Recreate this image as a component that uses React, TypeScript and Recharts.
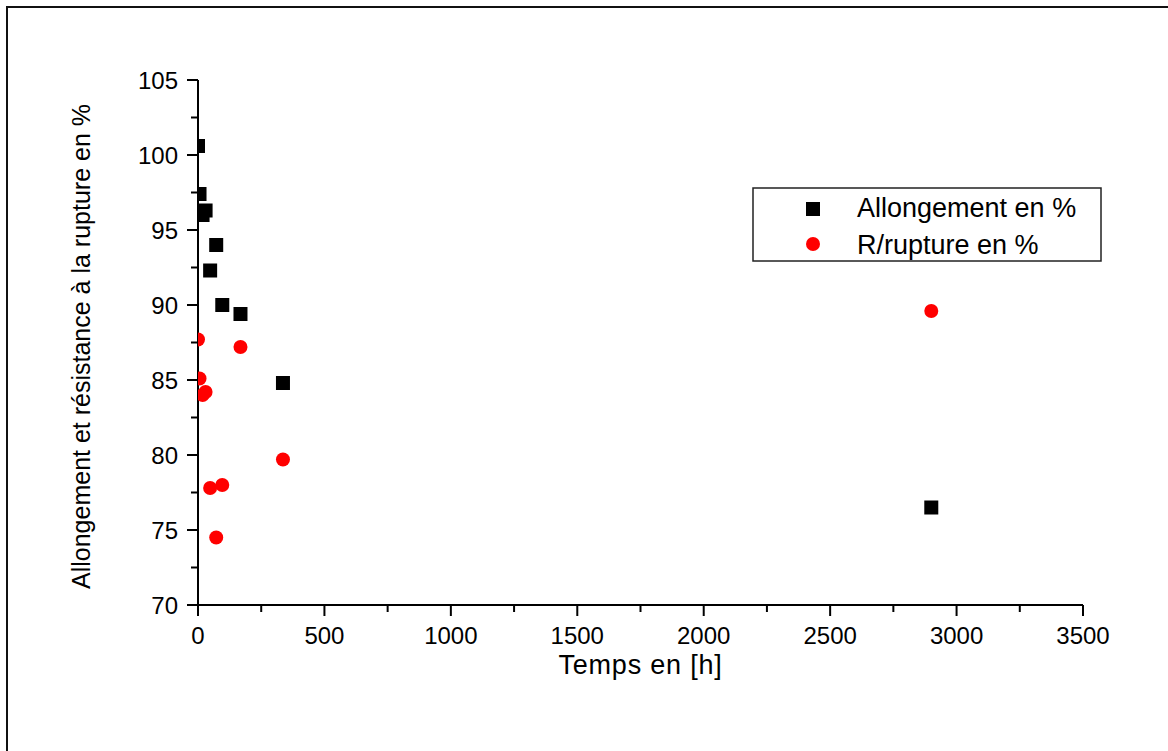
import React from 'react';
import { ScatterChart, Scatter, XAxis, YAxis, Legend } from 'recharts';

// values
const hours = [0, 6, 18, 30, 48, 72, 96, 168, 336, 2900];
const allongement = [100.6, 97.4, 96.0, 96.3, 92.3, 94.0, 90.0, 89.4, 84.8, 76.5];
const rupture = [87.7, 85.1, 84.0, 84.2, 77.8, 74.5, 78.0, 87.2, 79.7, 89.6];

const xTicks = [0, 250, 500, 750, 1000, 1250, 1500, 1750, 2000, 2250, 2500, 2750, 3000, 3250, 3500];
const yTicks = [70, 72.5, 75, 77.5, 80, 82.5, 85, 87.5, 90, 92.5, 95, 97.5, 100, 102.5, 105];

const FONT = '"Liberation Sans", Arial, sans-serif';

const allongementData = hours.map((h, i) => ({ x: h, y: allongement[i] }));
const ruptureData = hours.map((h, i) => ({ x: h, y: rupture[i] }));

const Square = (props: any) => {
  const { cx, cy } = props;
  if (cx == null || cy == null) return null;
  return <rect x={cx - 7} y={cy - 7} width={14} height={14} fill="#000" />;
};

const Dot = (props: any) => {
  const { cx, cy } = props;
  if (cx == null || cy == null) return null;
  return <circle cx={cx} cy={cy} r={7} fill="#ff0000" />;
};

const XTick = (props: any) => {
  const { x, y, payload } = props;
  const major = payload.value % 500 === 0;
  return (
    <g>
      <line x1={x} y1={y} x2={x} y2={y + (major ? 11 : 7)} stroke="#000" strokeWidth={2} />
      {major && (
        <text x={x} y={y + 39} textAnchor="middle" fontSize={24} fontFamily={FONT} fill="#000">
          {payload.value}
        </text>
      )}
    </g>
  );
};

const YTick = (props: any) => {
  const { x, y, payload } = props;
  const major = payload.value % 5 === 0;
  return (
    <g>
      <line x1={x - (major ? 11 : 7)} y1={y} x2={x} y2={y} stroke="#000" strokeWidth={2} />
      {major && (
        <text x={x - 20} y={y + 8.5} textAnchor="end" fontSize={24} fontFamily={FONT} fill="#000">
          {payload.value}
        </text>
      )}
    </g>
  );
};

const renderLegend = () => (
  <svg width={350} height={75} style={{ display: 'block' }}>
    <rect x={1} y={1} width={348} height={73} fill="#fff" stroke="#222" strokeWidth={1.5} />
    <rect x={54} y={15} width={14} height={14} fill="#000" />
    <text x={105} y={30} fontSize={27} fontFamily={FONT} fill="#000">
      Allongement en %
    </text>
    <circle cx={61} cy={57} r={7} fill="#ff0000" />
    <text x={105} y={67} fontSize={27} fontFamily={FONT} fill="#000">
      R/rupture en %
    </text>
  </svg>
);

const YTitle = (props: any) => {
  const { viewBox } = props;
  const cx = viewBox.x + 12;
  const cy = viewBox.y + viewBox.height / 2 + 4;
  return (
    <text
      x={cx}
      y={cy}
      transform={`rotate(-90, ${cx}, ${cy})`}
      textAnchor="middle"
      fontSize={25}
      fontFamily={FONT}
      fill="#000"
    >
      Allongement et résistance à la rupture en %
    </text>
  );
};

const XTitle = (props: any) => {
  const { viewBox } = props;
  const cx = viewBox.x + viewBox.width / 2;
  return (
    <text x={cx} y={viewBox.y + 69} textAnchor="middle" fontSize={27} letterSpacing={0.8} fontFamily={FONT} fill="#000">
      Temps en [h]
    </text>
  );
};

export default function App() {
  return (
    <div style={{ position: 'absolute', left: 0, top: 0, width: 1168, height: 751, background: '#fff', overflow: 'hidden' }}>
      <div style={{ position: 'absolute', left: 0, top: 0 }}>
        <ScatterChart width={1168} height={751} margin={{ top: 80, right: 85, bottom: 56, left: 78 }}>
          <XAxis
            type="number"
            dataKey="x"
            domain={[0, 3500]}
            ticks={xTicks}
            interval={0}
            allowDataOverflow
            height={90}
            tickSize={0}
            tickMargin={0}
            tickLine={false}
            tick={<XTick />}
            axisLine={{ stroke: '#000', strokeWidth: 2 }}
            label={{ content: <XTitle /> }}
          />
          <YAxis
            type="number"
            dataKey="y"
            domain={[70, 105]}
            ticks={yTicks}
            interval={0}
            allowDataOverflow
            width={120}
            tickSize={0}
            tickMargin={0}
            tickLine={false}
            tick={<YTick />}
            axisLine={{ stroke: '#000', strokeWidth: 2 }}
            label={{ content: <YTitle /> }}
          />
          <Legend
            layout="horizontal"
            verticalAlign="middle"
            align="center"
            content={renderLegend}
            wrapperStyle={{ left: 752, top: 187, width: 350, height: 75 }}
          />
          <Scatter name="Allongement en %" data={allongementData} shape={<Square />} isAnimationActive={false} />
          <Scatter name="R/rupture en %" data={ruptureData} shape={<Dot />} isAnimationActive={false} />
        </ScatterChart>
      </div>
      <div
        style={{
          position: 'absolute',
          left: 6,
          top: 6,
          width: 1200,
          height: 800,
          borderTop: '2px solid #111',
          borderLeft: '2px solid #111',
          pointerEvents: 'none',
          zIndex: 2,
        }}
      />
    </div>
  );
}
